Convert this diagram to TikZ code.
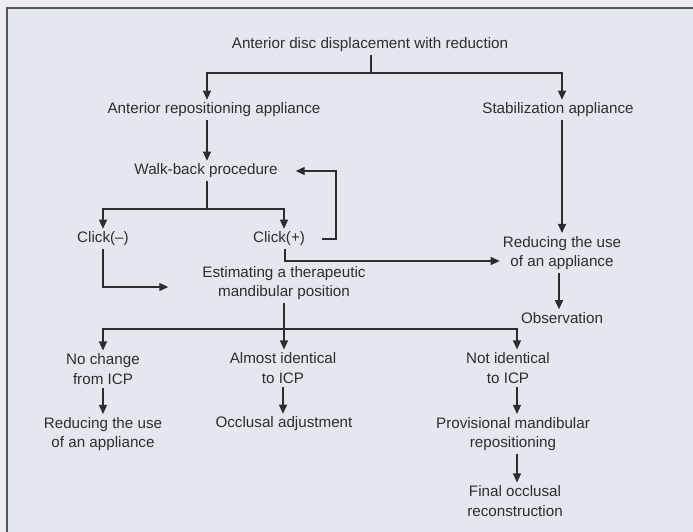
\documentclass[tikz,border=0pt]{standalone}
\usepackage{fontspec}
\setmainfont{Liberation Sans}
\usepackage{tikz}
\usetikzlibrary{arrows.meta, positioning, calc}

\definecolor{paper}{RGB}{236,238,241}
\definecolor{panel}{RGB}{228,232,238}
\definecolor{ink}{RGB}{45,45,48}

\begin{document}
\begin{tikzpicture}[x=1pt, y=-1pt,
        lbl/.style={align=center, inner sep=3pt, text=ink, font=\fontsize{15.2}{19.5}\selectfont},
        line/.style={draw=ink, line width=1.1pt},
        arrow/.style={line, -{Triangle[length=9pt, width=8pt]}}
    ]
        \useasboundingbox (0,0) rectangle (693,532);
        \fill[paper] (0,0) rectangle (693,532);
        \fill[panel] (7,8) rectangle (693,532);
        \draw[ink!80, line width=1.4pt] (7,532) -- (7,8) -- (693,8);

        \node[lbl] (disc) at (370,45) {Anterior disc displacement with reduction};
        \node[lbl] (ant) at (214,110) {Anterior repositioning appliance};
        \node[lbl] (stab) at (558,110) {Stabilization appliance};
        \node[lbl] (walk) at (206,171) {Walk-back procedure};
        \node[lbl] (cminus) at (103,239) {Click(--)};
        \node[lbl] (cplus) at (279,239) {Click(+)};
        \node[lbl] (red1) at (562,253) {Reducing the use\\of an appliance};
        \node[lbl] (est) at (284,283) {Estimating a therapeutic\\mandibular position};
        \node[lbl] (obs) at (562,318) {Observation};
        \node[lbl] (noch) at (103,369) {No change\\from ICP};
        \node[lbl] (almost) at (283,368) {Almost identical\\to ICP};
        \node[lbl] (notid) at (508,368) {Not identical\\to ICP};
        \node[lbl] (red2) at (103,434) {Reducing the use\\of an appliance};
        \node[lbl] (occl) at (284,424) {Occlusal adjustment};
        \node[lbl] (prov) at (513,434) {Provisional mandibular\\repositioning};
        \node[lbl] (final) at (515,501) {Final occlusal\\reconstruction};

        \coordinate (split1) at (371,73);
        \coordinate (split2) at (207,209);
        \coordinate (split3) at (284,329);
        \coordinate (loop) at (336,200);

        \draw[line] (disc.south -| split1) -- (split1);
        \draw[arrow] (split1) -| ([xshift=-7pt]ant.north);
        \draw[arrow] (split1) -| (stab.north -| red1);
        \draw[arrow] ([xshift=-7pt]ant.south) -- ([xshift=-7pt]ant.south |- walk.north);
        \draw[arrow] (stab.south -| red1) -- (red1);

        \draw[line] (walk.south -| split2) -- (split2);
        \draw[arrow] (split2) -| (cminus);
        \draw[arrow] (split2) -| ([xshift=5pt]cplus.north);
        \draw[arrow] ([xshift=14pt]cplus.east) -| (loop) |- ([xshift=15pt]walk.east);
        \draw[arrow] ([xshift=6pt]cplus.south) |- ([yshift=-8pt]red1.west);
        \draw[arrow] (cminus) |- ([xshift=-31pt, yshift=-4pt]est.west);
        \draw[arrow] ([xshift=-3pt]red1.south) -- ([xshift=-3pt]red1.south |- obs.north);

        \draw[line] (est) -- (split3);
        \draw[arrow] (split3) -| (noch);
        \draw[arrow] (split3) -- (split3 |- almost.north);
        \draw[arrow] (split3) -| ([xshift=9pt]notid.north);
        \draw[arrow] (noch) -- (red2);
        \draw[arrow] (almost.south) -- (almost.south |- occl.north);
        \draw[arrow] ([xshift=9pt]notid.south) -- ([xshift=9pt]notid.south |- prov.north);
        \draw[arrow] ([xshift=4pt]prov.south) -- ([xshift=4pt]prov.south |- final.north);
    \end{tikzpicture}
\end{document}
